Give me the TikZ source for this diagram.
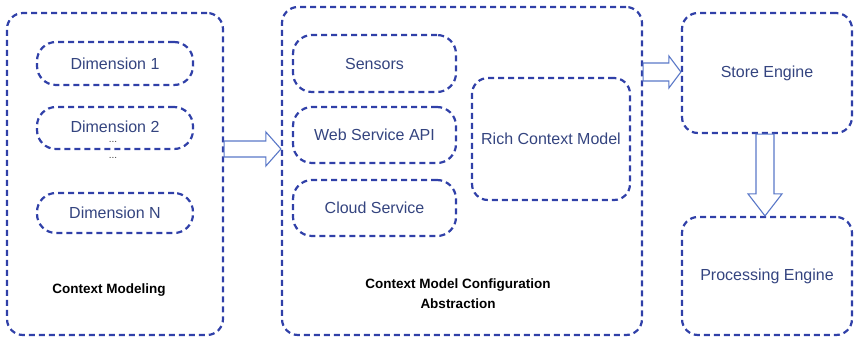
\documentclass[tikz,border=0pt]{standalone}
\usepackage{fontspec}
\setmainfont{Liberation Sans}
\usetikzlibrary{calc}
\definecolor{dashblue}{HTML}{3040A8}
\definecolor{txtblue}{HTML}{34447F}
\definecolor{arrblue}{HTML}{5A78C8}
\tikzset{
  dbox/.style={draw=dashblue, line width=2.2pt, dash pattern=on 6pt off 4pt, rounded corners=16pt, fill=none, text=txtblue, font=\fontsize{16}{19}\selectfont, align=center, inner sep=0pt},
  pill/.style={dbox, rounded corners=19pt},
  blabel/.style={font=\bfseries\fontsize{13.5}{20}\selectfont, text=black, align=center},
  dots/.style={font=\fontsize{10}{10}\selectfont, text=darkgray, inner sep=0pt},
  blockarr/.style={draw=arrblue, line width=1.1pt, fill=white, line join=miter}
}
\begin{document}
\begin{tikzpicture}[x=1pt,y=-1pt]
\useasboundingbox (0,0) rectangle (854,340);
% left group
\node[dbox, minimum width=216, minimum height=322] (cm) at (115,174) {};
\node[pill, minimum width=156, minimum height=43] (d1) at (115,63.5) {Dimension 1};
\node[pill, minimum width=156, minimum height=42, text depth=0pt] (d2) at (115,128) {\raisebox{2pt}{Dimension 2}};
\node[pill, minimum width=156, minimum height=40] (dN) at (115,213) {Dimension N};
\node[dots] (dt1) at (113,142) {...};
\node[dots] (dt2) at (113,158) {...};
\node[blabel] (cml) at (109,290) {Context Modeling};
% middle group
\node[dbox, minimum width=360, minimum height=328] (cfg) at (462,171) {};
\node[pill, minimum width=163, minimum height=57] (sen) at (374.5,63.5) {Sensors};
\node[pill, minimum width=163, minimum height=56] (web) at (374.5,135) {Web Service API};
\node[pill, minimum width=163, minimum height=56] (cld) at (374.5,208) {Cloud Service};
\node[dbox, minimum width=158, minimum height=122] (rich) at (551,139) {Rich Context Model};
\node[blabel] (cfgl) at (458,294) {Context Model Configuration\\Abstraction};
% right group
\node[dbox, minimum width=170, minimum height=120] (store) at (767,73) {Store Engine};
\node[dbox, minimum width=170, minimum height=118] (proc) at (767,276) {Processing Engine};
% block arrows
\coordinate (a1s) at (cm.east |- 0,149);
\coordinate (a1e) at (cfg.west |- 0,149);
\draw[blockarr] ($(a1s)+(0,-8)$) -- ($(a1e)+(-15,-8)$) -- ($(a1e)+(-15,-17)$) -- (a1e)
  -- ($(a1e)+(-15,17)$) -- ($(a1e)+(-15,8)$) -- ($(a1s)+(0,8)$) -- cycle;
\coordinate (a2s) at (cfg.east |- 0,72);
\coordinate (a2e) at (store.west |- 0,72);
\draw[blockarr] ($(a2s)+(0,-9)$) -- ($(a2e)+(-12,-9)$) -- ($(a2e)+(-12,-16)$) -- (a2e)
  -- ($(a2e)+(-12,16)$) -- ($(a2e)+(-12,9)$) -- ($(a2s)+(0,9)$) -- cycle;
\coordinate (a3s) at (765,0 |- store.south);
\coordinate (a3e) at (765,0 |- proc.north);
\draw[blockarr] ($(a3s)+(-9,0)$) -- ($(a3e)+(-9,-22)$) -- ($(a3e)+(-17,-22)$) -- (a3e)
  -- ($(a3e)+(17,-22)$) -- ($(a3e)+(9,-22)$) -- ($(a3s)+(9,0)$) -- cycle;
\end{tikzpicture}
\end{document}
